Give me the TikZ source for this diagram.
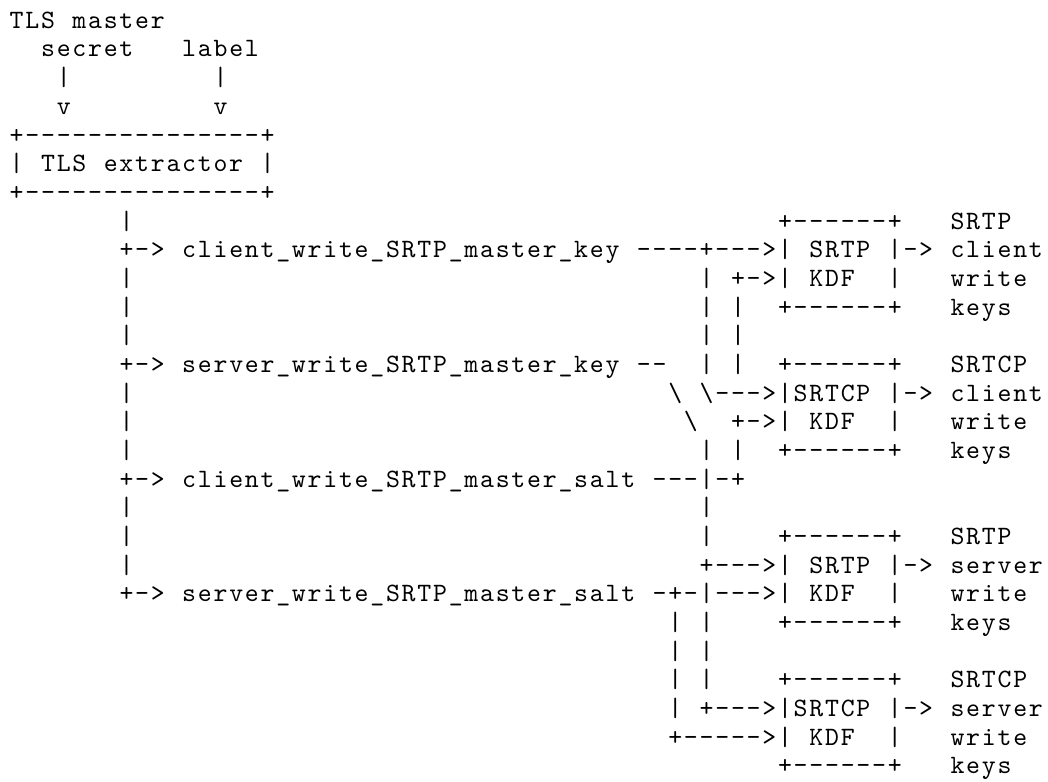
\documentclass[tikz,border=0pt]{standalone}
\usepackage{fontspec}
\setmonofont{lmmono10-regular.otf}
\newlength\cellw
\setlength\cellw{15.68pt}
\def\cellsend{cellsend}
\def\cells#1{\cellsloop#1\cellsend}
\def\cellsloop#1{\ifx#1\cellsend\else\makebox[\cellw]{#1}\expandafter\cellsloop\fi}
\begin{document}
\begin{tikzpicture}[x=15.68pt,y=-28.68pt]
\fill[white] (0pt,0pt) rectangle (1048pt,-781pt);
\useasboundingbox (0pt,0pt) rectangle (1048pt,-781pt);
\begin{scope}[shift={(8.86pt,0.38pt)},
              every node/.style={anchor=base west,inner sep=0pt,outer sep=0pt,
                                 font=\ttfamily\fontsize{26.5}{30}\selectfont}]
    % extractor
    \node (master) at (0,1) {\cells{TLS~master}};
    \node (secret) at (2,2) {\cells{secret}};
    \node (label) at (11,2) {\cells{label}};
    \node (secretbar) at (3,3) {\cells{|}};
    \node (labelbar) at (13,3) {\cells{|}};
    \node (secretv) at (3,4) {\cells{v}};
    \node (labelv) at (13,4) {\cells{v}};
    \node (exttop) at (0,5) {\cells{+---------------+}};
    \node (extmid) at (0,6) {\cells{|~TLS~extractor~|}};
    \node (extbot) at (0,7) {\cells{+---------------+}};
    % left trunk
    \node (trunkA) at (7,8) {\cells{|}};
    \node (ckeyarr) at (7,9) {\cells{+->}};
    \node (ckey) at (11,9) {\cells{client\_write\_SRTP\_master\_key}};
    \node (trunkB) at (7,10) {\cells{|}};
    \node (trunkC) at (7,11) {\cells{|}};
    \node (trunkD) at (7,12) {\cells{|}};
    \node (skeyarr) at (7,13) {\cells{+->}};
    \node (skey) at (11,13) {\cells{server\_write\_SRTP\_master\_key}};
    \node (trunkE) at (7,14) {\cells{|}};
    \node (trunkF) at (7,15) {\cells{|}};
    \node (trunkG) at (7,16) {\cells{|}};
    \node (csaltarr) at (7,17) {\cells{+->}};
    \node (csalt) at (11,17) {\cells{client\_write\_SRTP\_master\_salt}};
    \node (trunkH) at (7,18) {\cells{|}};
    \node (trunkI) at (7,19) {\cells{|}};
    \node (trunkJ) at (7,20) {\cells{|}};
    \node (ssaltarr) at (7,21) {\cells{+->}};
    \node (ssalt) at (11,21) {\cells{server\_write\_SRTP\_master\_salt}};
    % wiring
    \node (ckeyout) at (40,9) {\cells{----+--->}};
    \node (wA) at (44,10) {\cells{|}};
    \node (wB) at (46,10) {\cells{+->}};
    \node (wC) at (44,11) {\cells{|}};
    \node (wD) at (46,11) {\cells{|}};
    \node (wE) at (44,12) {\cells{|}};
    \node (wF) at (46,12) {\cells{|}};
    \node (skeyout) at (40,13) {\cells{--}};
    \node (wG) at (44,13) {\cells{|}};
    \node (wH) at (46,13) {\cells{|}};
    \node (wI) at (42,14) {\cells{\textbackslash}};
    \node (wJ) at (44,14) {\cells{\textbackslash--->}};
    \node (wK) at (43,15) {\cells{\textbackslash}};
    \node (wL) at (46,15) {\cells{+->}};
    \node (wM) at (44,16) {\cells{|}};
    \node (wN) at (46,16) {\cells{|}};
    \node (csaltout) at (41,17) {\cells{---|-+}};
    \node (wO) at (44,18) {\cells{|}};
    \node (wP) at (44,19) {\cells{|}};
    \node (wQ) at (44,20) {\cells{+--->}};
    \node (ssaltout) at (41,21) {\cells{-+-|--->}};
    \node (wR) at (42,22) {\cells{|}};
    \node (wS) at (44,22) {\cells{|}};
    \node (wT) at (42,23) {\cells{|}};
    \node (wU) at (44,23) {\cells{|}};
    \node (wV) at (42,24) {\cells{|}};
    \node (wW) at (44,24) {\cells{|}};
    \node (wX) at (42,25) {\cells{|}};
    \node (wY) at (44,25) {\cells{+--->}};
    \node (wZ) at (42,26) {\cells{+----->}};
    % KDF boxes
    \node (kdfAtop) at (49,8) {\cells{+------+}};
    \node (kdfAmid) at (49,9) {\cells{|~SRTP~|}};
    \node (kdfAlow) at (49,10) {\cells{|~KDF~~|}};
    \node (kdfAbot) at (49,11) {\cells{+------+}};
    \node (kdfBtop) at (49,13) {\cells{+------+}};
    \node (kdfBmid) at (49,14) {\cells{|SRTCP~|}};
    \node (kdfBlow) at (49,15) {\cells{|~KDF~~|}};
    \node (kdfBbot) at (49,16) {\cells{+------+}};
    \node (kdfCtop) at (49,19) {\cells{+------+}};
    \node (kdfCmid) at (49,20) {\cells{|~SRTP~|}};
    \node (kdfClow) at (49,21) {\cells{|~KDF~~|}};
    \node (kdfCbot) at (49,22) {\cells{+------+}};
    \node (kdfDtop) at (49,24) {\cells{+------+}};
    \node (kdfDmid) at (49,25) {\cells{|SRTCP~|}};
    \node (kdfDlow) at (49,26) {\cells{|~KDF~~|}};
    \node (kdfDbot) at (49,27) {\cells{+------+}};
    % outputs
    \node (outA) at (57,9) {\cells{->}};
    \node (outB) at (57,14) {\cells{->}};
    \node (outC) at (57,20) {\cells{->}};
    \node (outD) at (57,25) {\cells{->}};
    \node (keysA1) at (60,8) {\cells{SRTP}};
    \node (keysA2) at (60,9) {\cells{client}};
    \node (keysA3) at (60,10) {\cells{write}};
    \node (keysA4) at (60,11) {\cells{keys}};
    \node (keysB1) at (60,13) {\cells{SRTCP}};
    \node (keysB2) at (60,14) {\cells{client}};
    \node (keysB3) at (60,15) {\cells{write}};
    \node (keysB4) at (60,16) {\cells{keys}};
    \node (keysC1) at (60,19) {\cells{SRTP}};
    \node (keysC2) at (60,20) {\cells{server}};
    \node (keysC3) at (60,21) {\cells{write}};
    \node (keysC4) at (60,22) {\cells{keys}};
    \node (keysD1) at (60,24) {\cells{SRTCP}};
    \node (keysD2) at (60,25) {\cells{server}};
    \node (keysD3) at (60,26) {\cells{write}};
    \node (keysD4) at (60,27) {\cells{keys}};
\end{scope}
\end{tikzpicture}
\end{document}
